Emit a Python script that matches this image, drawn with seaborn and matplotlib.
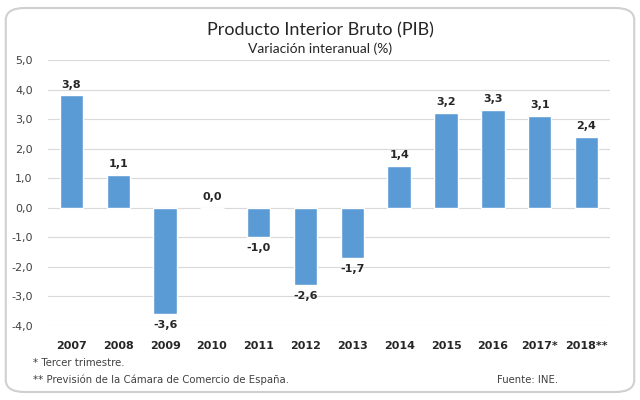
import pandas as pd
import matplotlib.pyplot as plt
import seaborn as sns
from matplotlib.patches import FancyBboxPatch

# datos
años = ['2007', '2008', '2009', '2010', '2011', '2012', '2013', '2014', '2015', '2016', '2017*', '2018**']
pib = [3.8, 1.1, -3.6, 0.0, -1.0, -2.6, -1.7, 1.4, 3.2, 3.3, 3.1, 2.4]
ticks_y = [-4, -3, -2, -1, 0, 1, 2, 3, 4, 5]

df = pd.DataFrame({'año': años, 'pib': pib})

sns.set_theme(style='white')
plt.rcParams['font.family'] = ['DejaVu Sans']

fig = plt.figure(figsize=(6.4, 4.0), dpi=100)
fig.patch.set_facecolor('white')

# marco redondeado (detrás de todo)
marco = FancyBboxPatch((0.009, 0.02), 0.982, 0.96, boxstyle='round,pad=0,rounding_size=0.03',
                       transform=fig.transFigure, facecolor='white', edgecolor='#d0d0d0',
                       linewidth=1.5, zorder=-10)
fig.patches.append(marco)

ax = fig.add_axes([0.075, 0.185, 0.878, 0.665])
ax.set_facecolor('none')
sns.barplot(data=df, x='año', y='pib', color='#5B9BD5', width=0.5, saturation=1, ax=ax, zorder=3)

ax.set_ylim(-4, 5)
ax.set_yticks(ticks_y)
ax.set_yticklabels([f'{t:.1f}'.replace('.', ',') for t in ticks_y], fontsize=8, color='#404040')
ax.yaxis.grid(True, color='#d9d9d9', linewidth=0.8, zorder=0)
ax.set_axisbelow(True)
ax.set_xlabel('')
ax.set_ylabel('')
for s in ax.spines.values():
    s.set_visible(False)
ax.tick_params(axis='y', length=0, pad=11)
ax.tick_params(axis='x', length=0, pad=11)
ax.set_xticks(range(len(años)))
ax.set_xticklabels(años, fontsize=8, fontweight='bold', color='#262626')

# valores
for i, v in enumerate(pib):
    txt = f'{v:.1f}'.replace('.', ',')
    if v >= 0:
        ax.text(i, v + 0.2, txt, ha='center', va='bottom', fontsize=8, fontweight='bold', color='#262626')
    else:
        ax.text(i, v - 0.2, txt, ha='center', va='top', fontsize=8, fontweight='bold', color='#262626')

fig.text(0.5, 0.925, 'Producto Interior Bruto (PIB)', ha='center', va='center',
         fontsize=13, color='#262626', family='Lato')
fig.text(0.5, 0.878, 'Variación interanual (%)', ha='center', va='center',
         fontsize=10, color='#262626', family='Lato')

fig.text(0.052, 0.092, '* Tercer trimestre.', fontsize=7.3, color='#404040', va='center')
fig.text(0.052, 0.05, '** Previsión de la Cámara de Comercio de España.', fontsize=7.3, color='#404040', va='center')
fig.text(0.777, 0.05, 'Fuente: INE.', fontsize=7.3, color='#404040', va='center')

fig.savefig('out.png', dpi=100)
